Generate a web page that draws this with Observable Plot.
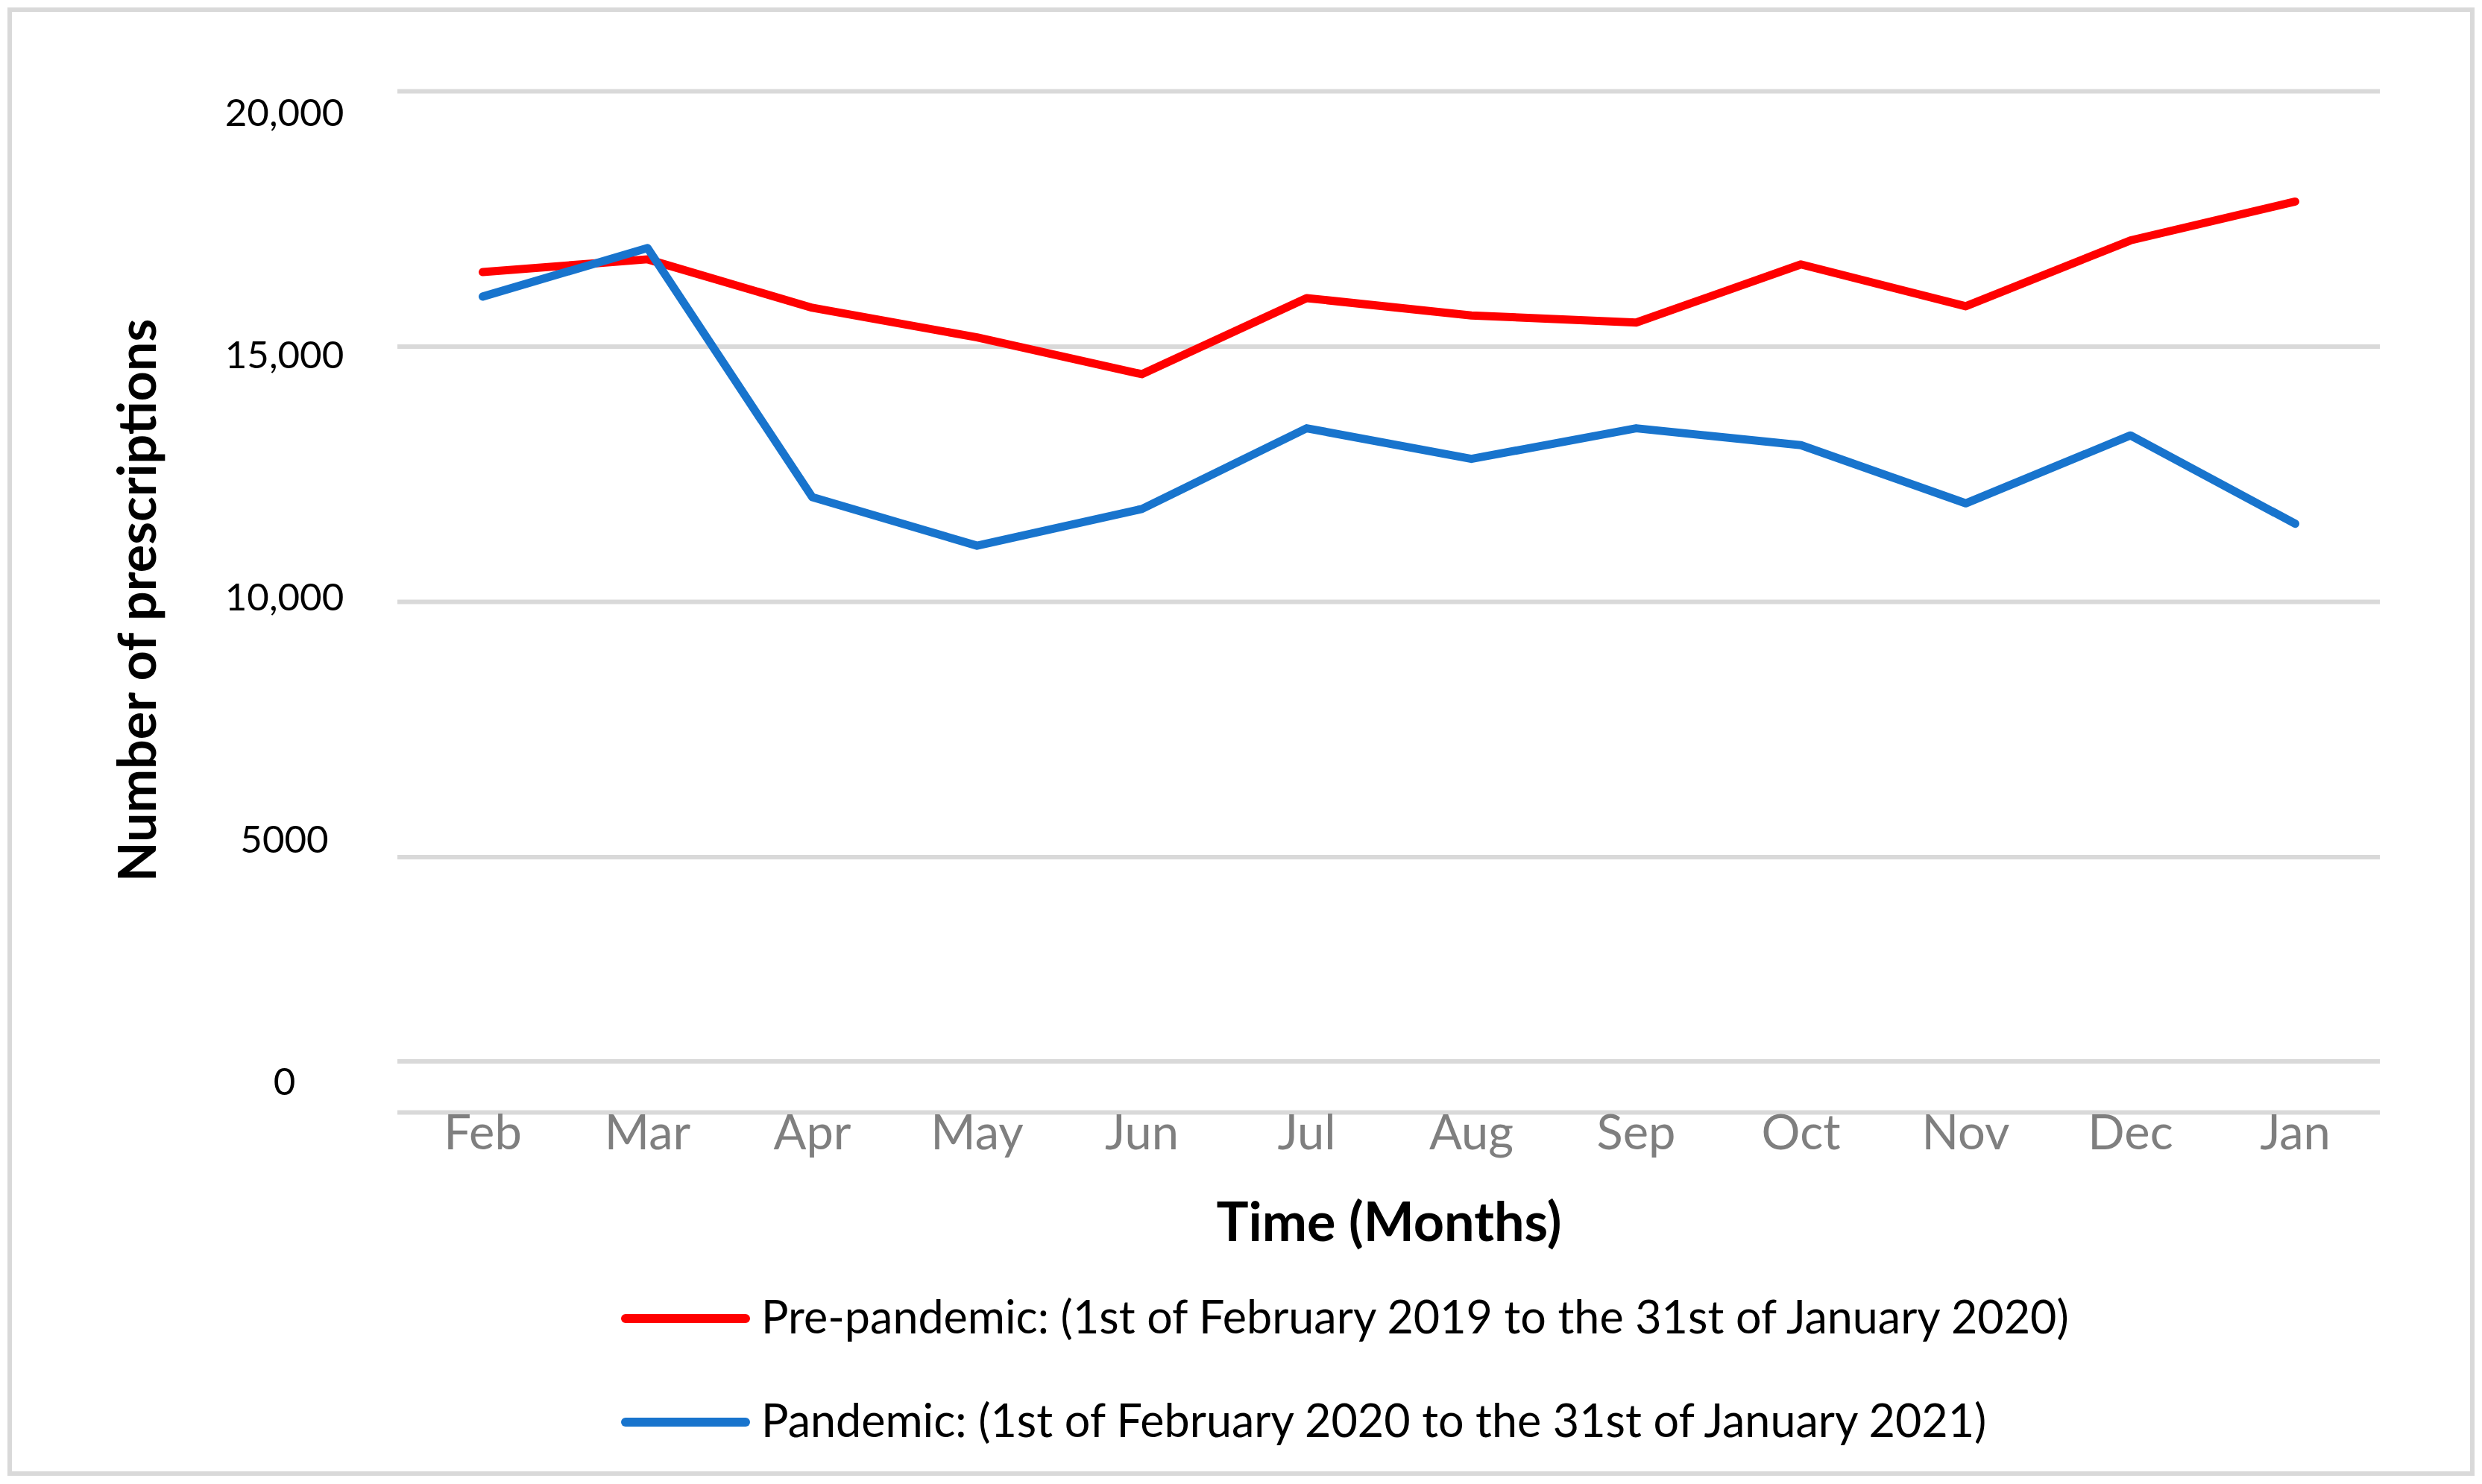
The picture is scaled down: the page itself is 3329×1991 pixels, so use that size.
<!DOCTYPE html>
<html>
<head>
<meta charset="utf-8">
<script src="https://cdn.jsdelivr.net/npm/d3@7"></script>
<script src="https://cdn.jsdelivr.net/npm/@observablehq/plot@0.6"></script>
<style>
  html, body { margin: 0; padding: 0; background: #ffffff; }
  #page { position: relative; width: 3329px; height: 1991px; overflow: hidden; font-family: Lato, "Open Sans", sans-serif; }
  #frame { position: absolute; left: 10px; top: 10px; width: 3309px; height: 1970px; border: 6px solid #d9d9d9; box-sizing: border-box; }
  #chart { position: absolute; left: 0; top: 0; }
  #legend { position: absolute; left: 0; top: 1700px; }
</style>
</head>
<body>
<div id="page">
  <div id="frame"></div>
  <div id="chart"></div>
  <div id="legend"></div>
</div>
<script>
// ---- data ----
const months = ["Feb", "Mar", "Apr", "May", "Jun", "Jul", "Aug", "Sep", "Oct", "Nov", "Dec", "Jan"];
const prePandemic = [16460, 16710, 15760, 15180, 14460, 15950, 15610, 15470, 16610, 15790, 17080, 17840];
const pandemic = [15980, 16930, 12050, 11100, 11820, 13400, 12800, 13400, 13070, 11930, 13260, 11530];
const seriesNames = [
  "Pre-pandemic: (1st of February 2019 to the 31st of January 2020)",
  "Pandemic: (1st of February 2020 to the 31st of January 2021)"
];
const seriesColors = ["#ff0000", "#1874cd"];
const gridValues = [1000, 5000, 10000, 15000, 20000];
const yTickValues = [0, 5000, 10000, 15000, 20000];
const yTickLabels = ["0", "5000", "10,000", "15,000", "20,000"];
const xTitle = "Time (Months)";
const yTitle = "Number of prescriptions";

// table built from the arrays
const rows = [];
[prePandemic, pandemic].forEach((vals, s) => {
  vals.forEach((v, i) => rows.push({series: seriesNames[s], month: months[i], value: v}));
});

const tickLabelMarks = yTickValues.map((t, i) =>
  Plot.text([t], {
    y: d => d,
    text: () => yTickLabels[i],
    frameAnchor: "left",
    dx: -152,
    dy: 30 - 17.5 * (20000 - t) / 5000,
    textAnchor: "middle",
    lineAnchor: "middle",
    fontSize: 51,
    fill: "#000000"
  })
);

const chart = Plot.plot({
  width: 3329,
  height: 1700,
  marginLeft: 533,
  marginRight: 137,
  marginTop: 122,
  marginBottom: 208,
  style: {fontFamily: "Lato, 'Open Sans', sans-serif", background: "transparent", overflow: "visible"},
  x: {type: "point", domain: months, padding: 0.5, axis: null},
  y: {domain: [0, 20000], axis: null},
  color: {domain: seriesNames, range: seriesColors},
  marks: [
    Plot.ruleY(gridValues, {stroke: "#d9d9d9", strokeWidth: 6}),
    Plot.ruleY([0], {stroke: "#d9d9d9", strokeWidth: 6}),
    Plot.line(rows, {
      x: "month", y: "value", z: "series", stroke: "series",
      strokeWidth: 11, strokeLinecap: "round", strokeLinejoin: "round"
    }),
    ...tickLabelMarks,
    Plot.text(months, {
      x: d => d, frameAnchor: "bottom", lineAnchor: "top", dy: 3,
      fontSize: 65, fill: "#7f7f7f"
    }),
    Plot.text([xTitle], {
      frameAnchor: "bottom", textAnchor: "middle", lineAnchor: "bottom", dy: 172,
      fontSize: 72, fontWeight: "bold", fill: "#000000"
    }),
    Plot.text([yTitle], {
      frameAnchor: "left", textAnchor: "middle", rotate: -90, lineAnchor: "bottom", dx: -325, dy: -2,
      fontSize: 70, fontWeight: "bold", fill: "#000000"
    })
  ]
});
document.getElementById("chart").appendChild(chart);

// ---- legend ----
const leg = d3.select("#legend").append("svg")
  .attr("width", 3329).attr("height", 291)
  .style("font-family", "Lato, 'Open Sans', sans-serif");
const rowsY = [69, 208];
seriesNames.forEach((name, i) => {
  const g = leg.append("g").attr("transform", `translate(0,${rowsY[i]})`);
  g.append("line")
    .attr("x1", 839).attr("x2", 1000).attr("y1", 0).attr("y2", 0)
    .attr("stroke", seriesColors[i]).attr("stroke-width", 12).attr("stroke-linecap", "round");
  g.append("text")
    .attr("x", 1021).attr("y", 20)
    .attr("font-size", 61).attr("fill", "#000000")
    .text(name);
});
</script>
</body>
</html>
